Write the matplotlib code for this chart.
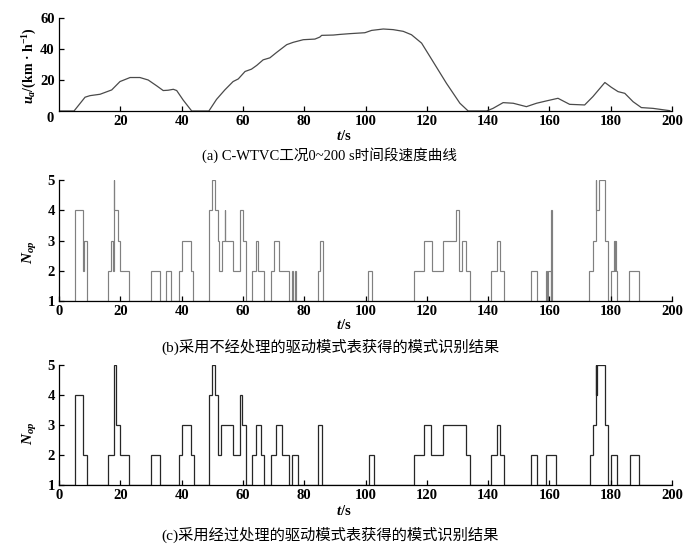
"""
C-WTVC 0~200 s: speed curve and mode recognition results
"""

import matplotlib

matplotlib.use("Agg")
import matplotlib.pyplot as plt

plt.rcParams["font.family"] = ["Liberation Serif", "Noto Sans CJK SC"]
plt.rcParams["font.weight"] = "bold"
plt.rcParams["mathtext.fontset"] = "custom"
plt.rcParams["mathtext.rm"] = "Liberation Serif:bold"
plt.rcParams["mathtext.it"] = "Liberation Serif:italic:bold"
plt.rcParams["mathtext.bf"] = "Liberation Serif:bold"

# (a) speed curve
speed_t = [0, 4.9, 8.5, 10.1, 13.4, 17.2, 19.9, 23.2, 26.4, 29.1, 31.9, 34.0,
           35.6, 37.3, 38.4, 40.5, 43.3, 48.9, 51.4, 54.1, 56.8, 58.5, 60.7,
           62.8, 64.5, 66.6, 68.8, 71.0, 74.3, 76.4, 79.7, 83.5, 85.1, 85.7,
           89.5, 91.6, 94.9, 99.8, 102.0, 105.8, 109.0, 112.3, 115.0, 118.3,
           121.0, 126.4, 130.8, 133.5, 139.5, 141.6, 144.9, 148.2, 152.5,
           155.8, 159.0, 162.8, 166.6, 171.5, 174.2, 178.1, 180.2, 182.4,
           184.6, 187.3, 190.0, 193.8, 199.3]
speed_v = [0, 0, 8.9, 9.9, 10.8, 13.6, 19.0, 21.6, 21.6, 20.0, 16.2, 13.2,
           13.4, 14.0, 13.2, 7.1, 0, 0, 7.5, 13.6, 19.0, 20.7, 25.5,
           27.0, 29.4, 33.0, 34.3, 37.8, 42.8, 44.3, 46.0, 46.4, 47.7, 48.8,
           49.0, 49.4, 49.9, 50.5, 52.0, 52.9, 52.5, 51.4, 49.2, 43.8,
           35.2, 17.9, 5.0, 0, 0, 1.7, 5.4, 5.0, 2.8,
           5.0, 6.5, 8.2, 4.3, 3.9, 9.3, 18.4, 15.3, 12.5,
           11.4, 6.0, 2.2, 1.7, 0.2]

# (b) raw drive-mode table: switch times and mode numbers
raw_t = [0, 5.11, 7.94, 8.26, 9.02, 15.87, 16.96, 17.5, 17.94, 18.1, 19.13,
         19.89, 22.94, 30.0, 33.04, 34.89, 36.41, 39.13, 40.0, 42.94, 43.81,
         49.02, 50.0, 50.87, 51.74, 52.18, 53.05, 54.0, 54.2, 56.85, 59.03,
         59.9, 60.87, 63.05, 64.13, 65.0, 66.96, 69.03, 70.0, 71.85, 75.0,
         75.87, 76.31, 76.9, 77.18, 84.35, 85.11, 85.98, 100.9, 102.1,
         115.88, 119.14, 121.75, 125.33, 129.68, 130.5, 131.53, 132.94,
         134.03, 141.1, 142.94, 144.03, 145.12, 154.0, 156.0, 159.0, 159.3,
         159.7, 160.4, 160.6, 160.75, 173.0, 174.1, 175.05, 175.3, 176.15,
         178.05, 179.14, 180.1, 181.0, 181.3, 181.5, 181.8, 182.07, 186.1,
         189.14, 200]
raw_n = [1, 4, 2, 3, 1, 2, 3, 2, 5, 4, 3,
         2, 1, 2, 1, 2, 1, 2, 3, 2, 1,
         4, 5, 4, 3, 2, 3, 4, 3, 2, 4,
         3, 1, 2, 3, 2, 1, 2, 3, 2, 1,
         2, 1, 2, 1, 2, 3, 1, 2, 1,
         2, 3, 2, 3, 4, 2, 3, 2,
         1, 2, 3, 2, 1, 2, 1, 2, 1,
         2, 1, 4, 1, 2, 3, 5, 4, 5,
         3, 1, 2, 3, 2, 3, 2, 1, 2,
         1]

# (c) processed drive-mode table
proc_t = [0, 5.11, 7.94, 9.24, 16.09, 18.04, 18.59, 19.89, 22.94, 30.0,
          33.04, 39.13, 40.0, 42.94, 44.0, 49.02, 50.0, 50.87, 51.95, 52.83,
          56.85, 59.03, 59.8, 60.87, 63.05, 64.13, 65.87, 66.96, 69.03,
          70.66, 72.83, 75.0, 75.87, 77.82, 84.6, 85.9, 101.2, 102.8,
          115.88, 119.14, 121.5, 125.33, 132.7, 134.03, 141.1, 142.94,
          144.03, 145.12, 154.0, 156.0, 159.03, 162.0, 173.1, 174.25,
          175.05, 175.35, 175.65, 178.2, 179.14, 180.0, 182.07, 186.2,
          189.14, 200]
proc_n = [1, 4, 2, 1, 2, 5, 3, 2, 1, 2,
          1, 2, 3, 2, 1, 4, 5, 4, 2, 3,
          2, 4, 3, 1, 2, 3, 2, 1, 2,
          3, 2, 1, 2, 1, 3, 1, 2, 1,
          2, 3, 2, 3, 2, 1, 2, 3,
          2, 1, 2, 1, 2, 1, 2, 3,
          5, 4, 5, 3, 1, 2, 1, 2,
          1]

x_ticks = list(range(0, 201, 20))
n_ticks = [1, 2, 3, 4, 5]
v_ticks = [20, 40, 60]

captions = [
    "(a) C-WTVC工况0~200 s时间段速度曲线",
    "(b)采用不经处理的驱动模式表获得的模式识别结果",
    "(c)采用经过处理的驱动模式表获得的模式识别结果",
]

W, H = 700, 559
fig = plt.figure(figsize=(W / 100, H / 100), dpi=100)


def px_axes(x0, x1, y_top, y_bot):
    return fig.add_axes([x0 / W, 1 - y_bot / H, (x1 - x0) / W, (y_bot - y_top) / H])


def style(ax):
    for side in ("top", "right"):
        ax.spines[side].set_visible(False)
    for side in ("left", "bottom"):
        ax.spines[side].set_linewidth(0.9)
    ax.tick_params(direction="in", length=3.5, width=0.9, labelsize=10.5, pad=3)
    for lab in ax.get_xticklabels() + ax.get_yticklabels():
        lab.set_fontweight("bold")


# (a)
ax_a = px_axes(59, 672, 18, 111)
ax_a.plot(speed_t, speed_v, color="#4a4a4a", lw=0.9)
ax_a.set_xlim(0, 200)
ax_a.set_ylim(0, 60)
ax_a.set_xticks(x_ticks[1:])
ax_a.set_yticks(v_ticks)
style(ax_a)

# (b)
ax_b = px_axes(59, 672, 180, 301)
ax_b.stairs(raw_n, raw_t, baseline=None, color="#808080", lw=0.85)
ax_b.set_xlim(0, 200)
ax_b.set_ylim(1, 5)
ax_b.set_xticks(x_ticks)
ax_b.set_yticks(n_ticks)
style(ax_b)

# (c)
ax_c = px_axes(59, 672, 365, 485)
ax_c.stairs(proc_n, proc_t, baseline=None, color="#262626", lw=0.9)
ax_c.set_xlim(0, 200)
ax_c.set_ylim(1, 5)
ax_c.set_xticks(x_ticks)
ax_c.set_yticks(n_ticks)
style(ax_c)


def ftext(x, y, s, **kw):
    fig.text(x / W, 1 - y / H, s, ha="center", va="center", **kw)


ftext(50, 118, "0", fontsize=10.5, fontweight="bold")
ftext(30, 66, r"$u_a$/(km · h$^{-1}$)", fontsize=10, rotation=90)
ftext(30, 252, r"$N_{op}$", fontsize=11, rotation=90)
ftext(30, 433, r"$N_{op}$", fontsize=11, rotation=90)
for y in (136, 325, 511):
    ftext(344, y, r"$t$/s", fontsize=10.5)
for y, cap, fs in zip((155, 347, 535), captions, (10.5, 11, 11)):
    ftext(330, y, cap, fontsize=fs, fontweight="normal")

fig.savefig("out.png", dpi=100)
